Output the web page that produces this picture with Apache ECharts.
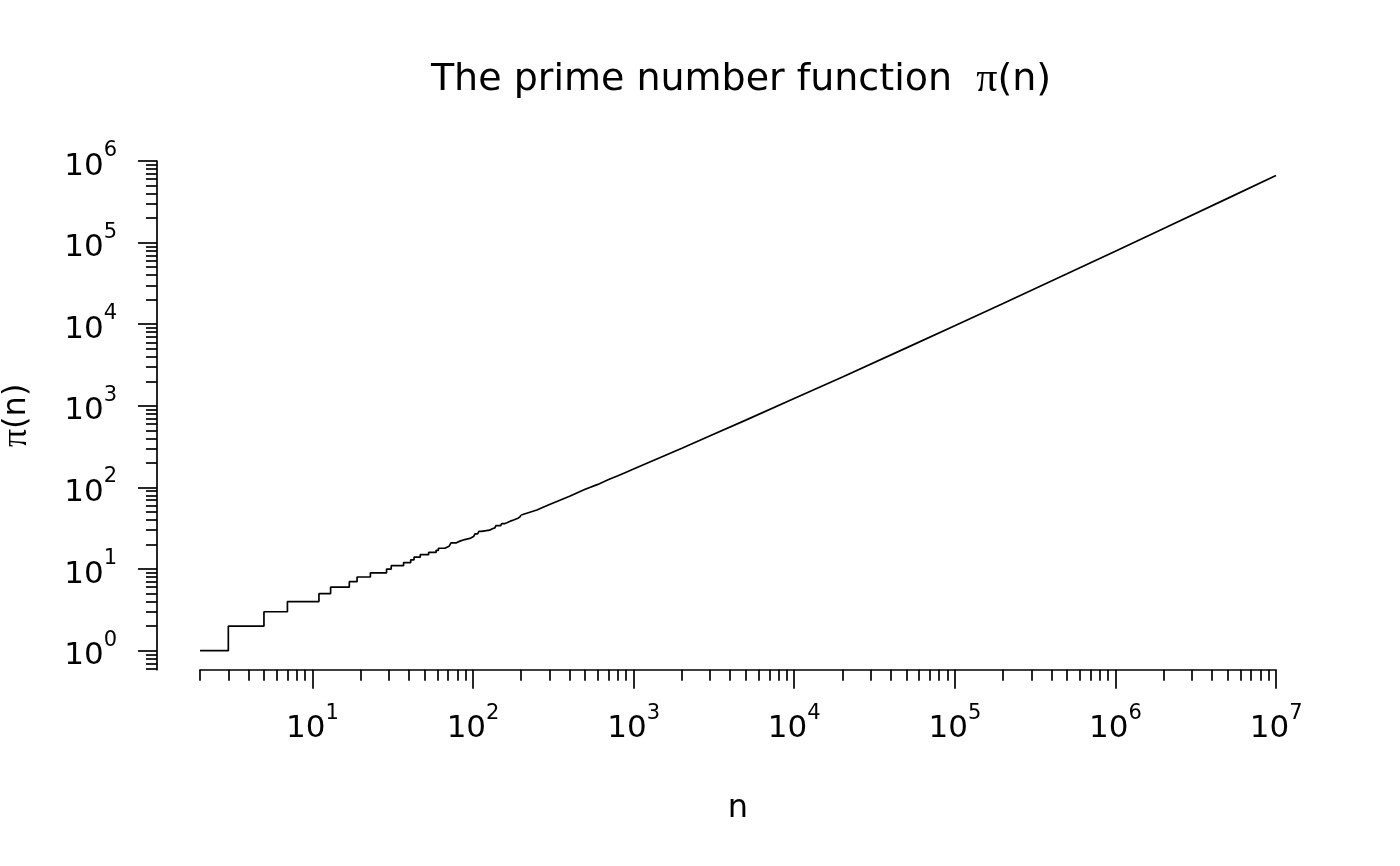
<!DOCTYPE html>
<html>
<head>
<meta charset="utf-8">
<title>The prime number function</title>
<script src="https://cdn.jsdelivr.net/npm/echarts@6/dist/echarts.min.js"></script>
<style>
html,body{margin:0;padding:0;background:#fff;}
#container1{width:1400px;height:866px;}
</style>
</head>
<body>
<div id="container1"></div>
<script>
// pi(n) as a step function: n at each prime up to 200, count after the jump
var stepN=[2,3,5,7,11,13,17,19,23,29,31,37,41,43,47,53,59,61,67,71,73,79,83,89,97,
           101,103,107,109,113,127,131,137,139,149,151,157,163,167,173,179,181,191,193,197,199,200];
var stepPi=[1,2,3,4,5,6,7,8,9,10,11,12,13,14,15,16,17,18,19,20,21,22,23,24,25,
            26,27,28,29,30,31,32,33,34,35,36,37,38,39,40,41,42,43,44,45,46,46];
// beyond 200 the steps are too small to see, so the curve goes through these points
var bigN=[200,250,300,400,500,600,700,800,900,1000,2000,3000,5000,10000,20000,50000,
          100000,200000,500000,1000000,2000000,5000000,10000000];
var bigPi=[46,53,62,78,95,109,125,139,154,168,303,430,669,1229,2262,5133,
           9592,17984,41538,78498,148933,348513,664579];
// axis ticks
var xMajor=[10,100,1000,10000,100000,1000000,10000000];
var yMajor=[1,10,100,1000,10000,100000,1000000];
var minorSteps=[2,3,4,5,6,7,8,9];
var yLowMinor=[0.6,0.7,0.8,0.9];

function minorTicks(decades){
	var out=[];
	for(var i=0;i<decades.length;i++){
		for(var j=0;j<minorSteps.length;j++){
			out.push(decades[i]*minorSteps[j]);
		}
	}
	return out;
}
var xMinor=minorTicks([1,10,100,1000,10000,100000,1000000]);
var yMinor=yLowMinor.concat(minorTicks([1,10,100,1000,10000,100000]));

function pairs(a,b){
	var out=[];
	for(var i=0;i<a.length;i++){out.push([a[i],b[i]]);}
	return out;
}

var font='DejaVu Sans';
var powLabel={
	h:{fontSize:1,lineHeight:42},
	b:{fontFamily:font,fontSize:31,lineHeight:32,verticalAlign:'bottom',color:'#000'},
	s:{fontFamily:font,fontSize:21,lineHeight:39,verticalAlign:'top',color:'#000'}
};
function powFormatter(v){
	var e=Math.round(Math.log(v)/Math.LN10);
	return '{h| }{b|10}{s|'+e+'}';
}
var black={color:'#000',width:1.7};

var myChart=echarts.init(document.getElementById('container1'));
var option={
	animation:false,
	backgroundColor:'#fff',
	title:{
		text:'{a|The prime number function  }{p|π}{a|(n)}',
		left:736,
		top:53,
		textAlign:'center',
		textStyle:{
			fontWeight:'normal',
			rich:{
				a:{fontFamily:font,fontSize:38,fontWeight:'normal',lineHeight:44,color:'#000'},
				p:{fontFamily:'Liberation Serif',fontSize:42,fontWeight:'normal',lineHeight:44,color:'#000'}
			}
		}
	},
	grid:[
		//plot region
		{left:157,right:81,top:156.5,bottom:196.3,outerBoundsMode:'none'},
		//x axis, from 2 to 1e7
		{left:200,right:124,top:156.5,bottom:196.3,outerBoundsMode:'none'},
		//y axis, from 1e6 down
		{left:157,right:81,top:161,bottom:196.3,outerBoundsMode:'none'}
	],
	xAxis:[
		{type:'log',logBase:10,gridIndex:0,min:1.0791,max:18535000,show:false},
		{type:'log',logBase:10,gridIndex:1,min:2,max:10000000,position:'bottom',
			axisLine:{show:true,lineStyle:black},
			axisTick:{show:true,length:11,lineStyle:black,customValues:xMinor},
			axisLabel:{show:false},
			splitLine:{show:false}
		},
		{type:'log',logBase:10,gridIndex:1,min:2,max:10000000,position:'bottom',
			name:'n',nameLocation:'middle',nameGap:123,
			nameTextStyle:{fontFamily:font,fontSize:32,color:'#000'},
			axisLine:{show:false},
			axisTick:{show:true,length:19,lineStyle:black,customValues:xMajor},
			axisLabel:{show:true,margin:33,customValues:xMajor,formatter:powFormatter,rich:powLabel},
			splitLine:{show:false}
		},
		{type:'value',gridIndex:2,show:false}
	],
	yAxis:[
		{type:'log',logBase:10,gridIndex:0,min:0.58497,max:1136000,show:false},
		{type:'value',gridIndex:1,show:false},
		{type:'log',logBase:10,gridIndex:2,min:0.58497,max:1000000,position:'left',
			axisLine:{show:true,lineStyle:black},
			axisTick:{show:true,length:11,lineStyle:black,customValues:yMinor},
			axisLabel:{show:false},
			splitLine:{show:false}
		},
		{type:'log',logBase:10,gridIndex:2,min:0.58497,max:1000000,position:'left',
			name:'{p|π}{a|(n)}',nameLocation:'middle',nameGap:121,
			nameTextStyle:{
				rich:{
					p:{fontFamily:'Liberation Serif',fontSize:36,lineHeight:38,color:'#000'},
					a:{fontFamily:font,fontSize:32,lineHeight:38,color:'#000'}
				}
			},
			axisLine:{show:false},
			axisTick:{show:true,length:19,lineStyle:black,customValues:yMajor},
			axisLabel:{show:true,margin:40,customValues:yMajor,formatter:powFormatter,rich:powLabel},
			splitLine:{show:false}
		}
	],
	series:[
		{
			name:'pi(n) steps',
			type:'line',
			xAxisIndex:0,yAxisIndex:0,
			step:'end',
			showSymbol:false,symbol:'none',
			lineStyle:{color:'#000',width:1.7},
			data:pairs(stepN,stepPi)
		},
		{
			name:'pi(n)',
			type:'line',
			xAxisIndex:0,yAxisIndex:0,
			showSymbol:false,symbol:'none',
			lineStyle:{color:'#000',width:1.7},
			data:pairs(bigN,bigPi)
		}
	]
};
myChart.setOption(option);
</script>
</body>
</html>
